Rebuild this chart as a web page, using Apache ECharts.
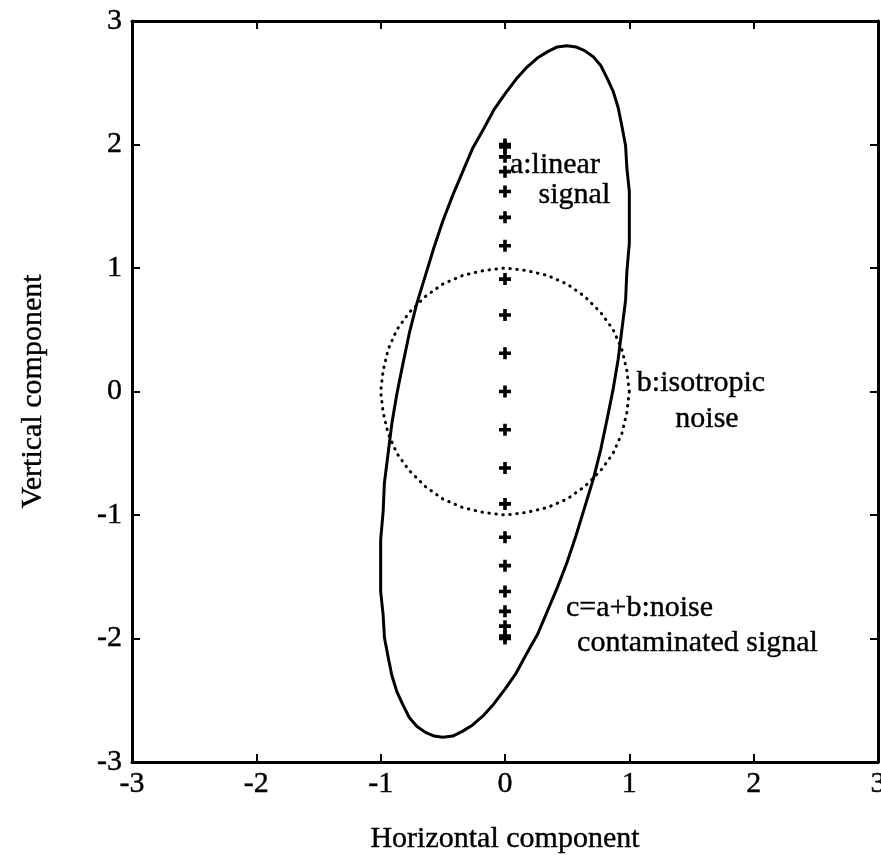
<!DOCTYPE html>
<html>
<head>
<meta charset="utf-8">
<title>Linear signal, isotropic noise and their sum</title>
<script src="https://cdn.jsdelivr.net/npm/echarts@6/dist/echarts.min.js"></script>
<style>
  html, body { margin: 0; padding: 0; background: #fff; }
  #chart { width: 881px; height: 865px; }
</style>
</head>
<body>
<div id="chart"></div>
<script>
// Axis ticks (both axes run -3 .. 3 in unit steps)
const tickValues = [-3, -2, -1, 0, 1, 2, 3];

// a: linear signal, samples along the vertical component
const signalY = [2.00, 1.98, 1.90, 1.78, 1.62, 1.41, 1.18, 0.91, 0.62, 0.31, 0.00,
                 -0.31, -0.62, -0.91, -1.18, -1.41, -1.62, -1.78, -1.90, -1.98, -2.00];
const signalX = [0, 0, 0, 0, 0, 0, 0, 0, 0, 0, 0,
                 0, 0, 0, 0, 0, 0, 0, 0, 0, 0];

// b: isotropic noise (unit circle, dotted outline)
const noiseX = [1.00, 0.98, 0.94, 0.87, 0.77, 0.64, 0.50, 0.34, 0.17, 0.00, -0.17, -0.34,
                -0.50, -0.64, -0.77, -0.87, -0.94, -0.98, -1.00, -0.98, -0.94, -0.87, -0.77, -0.64,
                -0.50, -0.34, -0.17, 0.00, 0.17, 0.34, 0.50, 0.64, 0.77, 0.87, 0.94, 0.98, 1.00];
const noiseY = [0.00, 0.17, 0.34, 0.50, 0.64, 0.77, 0.87, 0.94, 0.98, 1.00, 0.98, 0.94,
                0.87, 0.77, 0.64, 0.50, 0.34, 0.17, 0.00, -0.17, -0.34, -0.50, -0.64, -0.77,
                -0.87, -0.94, -0.98, -1.00, -0.98, -0.94, -0.87, -0.77, -0.64, -0.50, -0.34, -0.17, 0.00];

// c = a + b: noise contaminated signal (tilted ellipse outline)
const mixedX = [0.71, 0.77, 0.82, 0.87, 0.91, 0.94, 0.97, 0.98, 1.00, 1.00, 1.00, 0.98,
                0.97, 0.94, 0.91, 0.87, 0.82, 0.77, 0.71, 0.64, 0.57, 0.50, 0.42, 0.34,
                0.26, 0.17, 0.09, 0.00, -0.09, -0.17, -0.26, -0.34, -0.42, -0.50, -0.57, -0.64,
                -0.71, -0.77, -0.82, -0.87, -0.91, -0.94, -0.97, -0.98, -1.00, -1.00, -1.00, -0.98,
                -0.97, -0.94, -0.91, -0.87, -0.82, -0.77, -0.71, -0.64, -0.57, -0.50, -0.42, -0.34,
                -0.26, -0.17, -0.09, 0.00, 0.09, 0.17, 0.26, 0.34, 0.42, 0.50, 0.57, 0.64,
                0.71];
const mixedY = [-0.71, -0.47, -0.23, 0.02, 0.26, 0.50, 0.74, 0.97, 1.20, 1.41, 1.62, 1.81,
                1.99, 2.15, 2.30, 2.43, 2.54, 2.64, 2.71, 2.76, 2.79, 2.80, 2.79, 2.75,
                2.70, 2.62, 2.53, 2.41, 2.28, 2.13, 1.97, 1.78, 1.59, 1.38, 1.17, 0.94,
                0.71, 0.47, 0.23, -0.02, -0.26, -0.50, -0.74, -0.97, -1.20, -1.41, -1.62, -1.81,
                -1.99, -2.15, -2.30, -2.43, -2.54, -2.64, -2.71, -2.76, -2.79, -2.80, -2.79, -2.75,
                -2.70, -2.62, -2.53, -2.41, -2.28, -2.13, -1.97, -1.78, -1.59, -1.38, -1.17, -0.94,
                -0.71];

// Annotations, anchored in data coordinates (left edge, vertical middle)
const noteText = ['a:linear', 'signal', 'b:isotropic', 'noise', 'c=a+b:noise', 'contaminated signal'];
const noteX = [0.04, 0.27, 1.06, 1.37, 0.49, 0.58];
const noteY = [1.83, 1.59, 0.07, -0.22, -1.75, -2.04];

const SERIF = '"Liberation Serif", "Times New Roman", "DejaVu Serif", serif';
const INK = '#000';

const pair = (xs, ys) => xs.map((x, i) => [x, ys[i]]);

const textStyle = {
  color: INK, fontFamily: SERIF, fontSize: 30,
  textBorderColor: INK, textBorderWidth: 0.4
};

const baseAxis = {
  type: 'value',
  min: tickValues[0],
  max: tickValues[tickValues.length - 1],
  interval: 1,
  splitLine: { show: false },
  axisLine: { show: true, onZero: false, lineStyle: { color: INK, width: 3 } },
  axisTick: { show: true, inside: true, length: 8, lineStyle: { color: INK, width: 2 } },
  axisLabel: Object.assign({ show: true }, textStyle)
};

const chart = echarts.init(document.getElementById('chart'), null, { renderer: 'canvas' });

chart.setOption({
  backgroundColor: '#fff',
  animation: false,
  grid: { left: 132, right: 3, top: 21, bottom: 103, containLabel: false, outerBoundsMode: 'none' },
  xAxis: [
    Object.assign({}, baseAxis, {
      position: 'bottom',
      axisLabel: Object.assign({}, baseAxis.axisLabel, { margin: 7 }),
      name: 'Horizontal component',
      nameLocation: 'middle',
      nameGap: 62,
      nameTextStyle: textStyle
    }),
    Object.assign({}, baseAxis, { position: 'top', axisLabel: { show: false } })
  ],
  yAxis: [
    Object.assign({}, baseAxis, {
      position: 'left',
      axisLabel: Object.assign({}, baseAxis.axisLabel, { margin: 10 }),
      name: 'Vertical component',
      nameLocation: 'middle',
      nameGap: 84,
      nameTextStyle: textStyle
    }),
    Object.assign({}, baseAxis, { position: 'right', axisLabel: { show: false } })
  ],
  series: [
    {
      name: 'c',
      type: 'line',
      data: pair(mixedX, mixedY),
      smooth: false,
      symbol: 'none',
      lineStyle: { color: INK, width: 3, join: 'round' },
      z: 3
    },
    {
      name: 'b',
      type: 'line',
      data: pair(noiseX, noiseY),
      smooth: false,
      symbol: 'none',
      lineStyle: { color: INK, width: 3, type: [0.5, 6.5], cap: 'round' },
      z: 2
    },
    {
      name: 'a',
      type: 'scatter',
      data: pair(signalX, signalY),
      symbol: 'path://M3.5,0H6.5V3.5H10V6.5H6.5V10H3.5V6.5H0V3.5H3.5Z',
      symbolSize: 12,
      itemStyle: { color: INK, opacity: 1 },
      z: 4
    },
    {
      name: 'notes',
      type: 'scatter',
      symbolSize: 0,
      itemStyle: { opacity: 1 },
      data: noteText.map((t, i) => ({ value: [noteX[i], noteY[i]], name: t })),
      label: Object.assign({
        show: true,
        position: 'right',
        distance: 0,
        formatter: p => p.name,
        align: 'left',
        verticalAlign: 'middle'
      }, textStyle),
      silent: true,
      z: 5
    }
  ]
});
</script>
</body>
</html>
